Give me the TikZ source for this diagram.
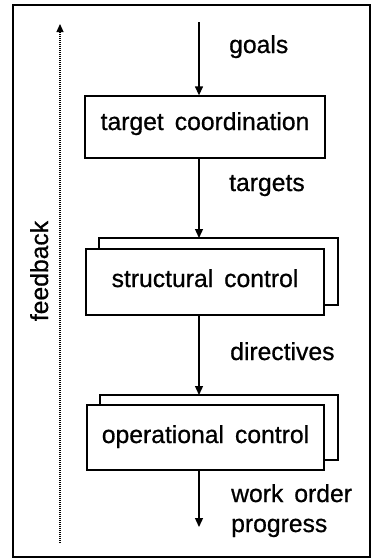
\documentclass[tikz,border=0pt]{standalone}
\usepackage{fontspec}
\setmainfont{Liberation Sans}
\newfontfamily\diaface[FakeBold=0.7]{Liberation Sans}
\usetikzlibrary{arrows.meta}
\newcommand\diafont{\diaface\fontsize{24.7}{28}\selectfont\spaceskip=11pt plus 1pt minus 1pt\relax}
\begin{document}
\begin{tikzpicture}[x=1pt,y=-1pt,
  every node/.style={font=\diafont},
  box/.style={draw, line width=1.3pt, fill=white, inner sep=0pt},
  backbox/.style={draw, line width=1.3pt, fill=white},
  flow/.style={line width=1.3pt, -{Triangle[length=9pt,width=8pt]}},
  fb/.style={line width=1.2pt, dash pattern=on 1pt off 1pt, -{Triangle[length=8pt,width=7pt]}},
  lbl/.style={anchor=base west, inner sep=0pt}
]
\useasboundingbox (0,0) rectangle (375,560);
\draw[line width=1.8pt] (13,5) rectangle (370,557);

% target coordination
\node[box, minimum width=240pt, minimum height=62pt, text height=12pt, text depth=6pt] (b1) at (205,127) {target coordination};

% structural control
\draw[backbox] (99,238) rectangle (338,305);
\coordinate (bk2) at (199,238);
\node[box, minimum width=238pt, minimum height=66pt, text height=14pt, text depth=4pt] (b2) at (205,282) {structural control};

% operational control
\draw[backbox] (100,395) rectangle (338,460);
\coordinate (bk3) at (199,395);
\node[box, minimum width=237pt, minimum height=65pt, text height=14pt, text depth=3pt] (b3) at (205.5,437.5) {operational control};

% flow
\coordinate (top) at (199,22);
\coordinate (bot) at (199,527);
\draw[flow] (top) -- (top |- b1.north);
\draw[flow] (b1.south -| top) -- (bk2);
\draw[flow] (b2.south -| top) -- (bk3);
\draw[flow] (b3.south -| top) -- (bot);

% labels
\node[lbl] (goals) at (229,53) {goals};
\node[lbl] (targets) at (229,191) {targets};
\node[lbl] (dir) at (230,360) {directives};
\node[lbl] (wo) at (231,502) {work order};
\node[lbl] (prog) at (231,532) {progress};

% feedback
\coordinate (fbs) at (60,543);
\coordinate (fbe) at (60,24);
\draw[fb] (fbs) -- (fbe);
\node[rotate=90, anchor=base, inner sep=0pt] (fbl) at (48,271) {feedback};
\end{tikzpicture}
\end{document}
